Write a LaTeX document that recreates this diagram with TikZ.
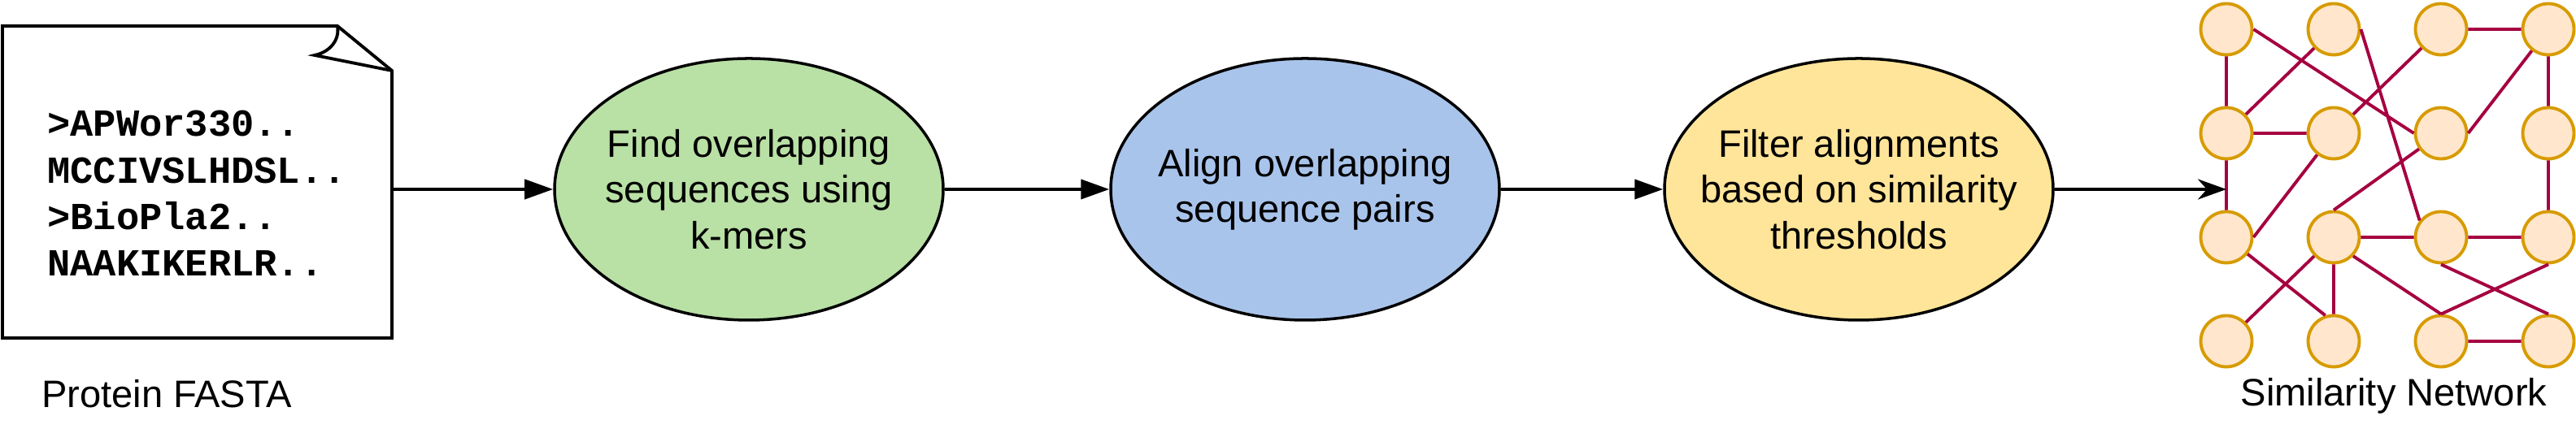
\documentclass[tikz,border=0pt]{standalone}
\usepackage{fontspec}
\setmainfont{Liberation Sans}
\setmonofont{Liberation Mono}
\usepackage{tikz}
\usetikzlibrary{arrows.meta,positioning,shapes.geometric,calc}
\usepackage{xcolor}
\definecolor{kmerfill}{HTML}{B9E0A5}
\definecolor{alignfill}{HTML}{A9C4EB}
\definecolor{filterfill}{HTML}{FFE599}
\definecolor{vertexfill}{HTML}{FFE6CC}
\definecolor{vertexline}{HTML}{D79B00}
\definecolor{edgeline}{HTML}{A50040}

\begin{document}
\begin{tikzpicture}[
  stage/.style={ellipse, draw, line width=1pt, minimum width=4.78cm, minimum height=3.22cm,
    align=center, inner xsep=-5mm, inner ysep=0pt, font=\fontsize{13.4}{16}\selectfont},
  flow/.style={-{Triangle[length=3.5mm,width=2.4mm]}, line width=1.1pt},
  vertex/.style={circle, draw=vertexline, fill=vertexfill, line width=1.1pt,
    minimum size=0.63cm, inner sep=0pt},
  link/.style={edgeline, line width=1.1pt},
  caption/.style={anchor=base, font=\fontsize{13.4}{16}\selectfont}
]
  \useasboundingbox (0,0) rectangle (31.68,5.44);

  % Input file (page with folded corner)
  \draw[line width=1.1pt, line join=miter]
    (0.03,5.12) -- (4.15,5.12) -- (4.82,4.57) -- (4.82,1.28) -- (0.03,1.28) -- cycle;
  \draw[line width=1.1pt, line join=miter]
    (4.15,5.12) .. controls (4.18,4.95) and (4.06,4.80) .. (3.87,4.76) -- (4.82,4.57);
  \node[anchor=west, align=left, font=\fontsize{13.4}{16.3}\selectfont\ttfamily\bfseries]
    (fasta) at (0.46,3.06) {>APWor330..\\MCCIVSLHDSL..\\>BioPla2..\\NAAKIKERLR..};
  \node[caption] (fastalabel) at (2.05,0.42) {Protein FASTA};
  \coordinate (docout) at (4.82,3.11);

  % Pipeline steps
  \node[stage, fill=kmerfill] (find) at (9.21,3.11)
    {Find overlapping\\sequences using\\k-mers};
  \node[stage, fill=alignfill] (align) at (16.05,3.11)
    {Align overlapping\\sequence pairs};
  \node[stage, fill=filterfill] (filter) at (22.86,3.11)
    {Filter alignments\\based on similarity\\thresholds};

  % Output network
  \foreach \r/\y in {1/5.08,2/3.80,3/2.52,4/1.24}
    \foreach \c/\x in {1/27.38,2/28.70,3/30.02,4/31.34}
      \node[vertex] (n\r\c) at (\x,\y) {};
  \draw[link] (n11) -- (n21)  (n11.east) -- (n23.west)  (n12) -- (n21)
    (n12.east) -- (n33.142)  (n13) -- (n14)  (n13) -- (n22)
    (n14) -- (n24)  (n14) -- (n23.east)  (n21) -- (n22)  (n21) -- (n31)
    (n22) -- (n31.east)  (n23) -- (n32.north)  (n24) -- (n34)
    (n32) -- (n33)  (n33) -- (n34)  (n31) -- (n42.108)  (n32) -- (n41)
    (n32) -- (n42)  (n32.-44) -- (n43.north)  (n33.south) -- (n44.north)
    (n34.south) -- (n43.north)  (n43) -- (n44);
  \node[caption] (netlabel) at (29.44,0.44) {Similarity Network};
  \coordinate (netin) at (27.38,3.11);

  % Arrows
  \draw[flow] (docout) -- (find);
  \draw[flow] (find) -- (align);
  \draw[flow] (align) -- (filter);
  \draw[-{Stealth[length=3.5mm,width=2.5mm,inset=1.1mm]}, line width=1.1pt] (filter) -- (netin);
\end{tikzpicture}
\end{document}
